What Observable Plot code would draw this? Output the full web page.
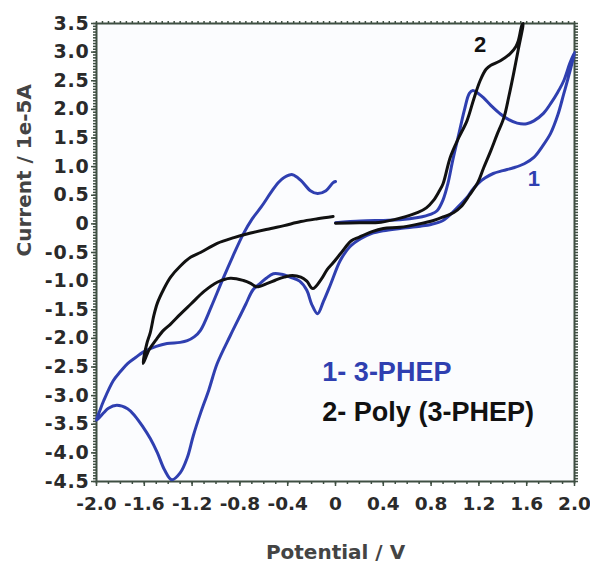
<!DOCTYPE html>
<html>
<head>
<meta charset="utf-8">
<script src="https://cdn.jsdelivr.net/npm/d3@7"></script>
<script src="https://cdn.jsdelivr.net/npm/@observablehq/plot@0.6"></script>
<style>
  html, body { margin: 0; padding: 0; background: #ffffff; }
  #chart svg { display: block; font-weight: bold; }
  #chart svg g[aria-label="y-axis tick label"] text { letter-spacing: 0.8px; }
</style>
</head>
<body>
<div id="chart"></div>
<script>
// ---- Data ----
// Curve 1: 3-PHEP (blue), in scan order: 0 V -> +2.0 V -> -2.0 V -> 0 V
const blueV = [0.0, 0.21, 0.4, 0.54, 0.69, 0.8, 0.85, 0.9, 0.94, 0.98, 1.03, 1.08, 1.12, 1.15, 1.2, 1.24, 1.3, 1.38, 1.45, 1.52, 1.6, 1.66, 1.74, 1.8, 1.86, 1.91, 1.96, 2.0,
  1.96, 1.91, 1.86, 1.8, 1.73, 1.66, 1.58, 1.49, 1.4, 1.32, 1.25, 1.19, 1.14, 1.1, 1.05, 0.98, 0.9, 0.8, 0.71, 0.54, 0.4, 0.3, 0.21, 0.12, 0.04, -0.04, -0.1, -0.15, -0.2, -0.24, -0.3, -0.38, -0.45, -0.52, -0.58, -0.63, -0.69, -0.75, -0.79, -0.88, -0.99, -1.06, -1.13, -1.19, -1.24, -1.3, -1.37, -1.43, -1.49, -1.55, -1.61, -1.68, -1.74, -1.83, -1.9, -1.94, -2.0,
  -1.97, -1.94, -1.86, -1.8, -1.74, -1.67, -1.61, -1.5, -1.41, -1.3, -1.24, -1.18, -1.13, -1.04, -0.95, -0.86, -0.77, -0.7, -0.62, -0.54, -0.48, -0.43, -0.36, -0.29, -0.21, -0.15, -0.08, -0.02, 0.0];
const blueI = [0.02, 0.05, 0.06, 0.07, 0.11, 0.17, 0.23, 0.42, 0.7, 1.1, 1.55, 2.0, 2.28, 2.33, 2.27, 2.2, 2.07, 1.92, 1.82, 1.76, 1.75, 1.8, 1.93, 2.1, 2.3, 2.5, 2.8, 3.0,
  2.65, 2.27, 1.9, 1.58, 1.35, 1.16, 1.05, 0.98, 0.93, 0.88, 0.8, 0.7, 0.58, 0.46, 0.35, 0.2, 0.06, -0.01, -0.04, -0.08, -0.12, -0.17, -0.26, -0.4, -0.64, -1.05, -1.35, -1.57, -1.4, -1.16, -1.0, -0.93, -0.88, -0.87, -0.95, -1.04, -1.15, -1.4, -1.57, -1.95, -2.44, -2.9, -3.31, -3.7, -4.08, -4.35, -4.47, -4.3, -4.0, -3.75, -3.55, -3.35, -3.23, -3.17, -3.22, -3.3, -3.43,
  -3.25, -3.09, -2.74, -2.58, -2.44, -2.33, -2.24, -2.14, -2.09, -2.07, -2.04, -1.97, -1.86, -1.45, -1.0, -0.57, -0.17, 0.08, 0.3, 0.55, 0.72, 0.81, 0.86, 0.76, 0.58, 0.53, 0.58, 0.72, 0.74];

// Curve 2: Poly(3-PHEP) (black), in scan order: 0 V -> +1.57 V -> -1.6 V -> 0 V
const blackV = [0.0, 0.2, 0.38, 0.54, 0.69, 0.76, 0.82, 0.87, 0.9, 0.96, 1.03, 1.1, 1.16, 1.21, 1.26, 1.3, 1.38, 1.46, 1.51, 1.53, 1.56, 1.57,
  1.53, 1.49, 1.45, 1.41, 1.35, 1.3, 1.24, 1.19, 1.12, 1.05, 0.99, 0.9, 0.82, 0.7, 0.54, 0.4, 0.3, 0.2, 0.13, 0.05, -0.02, -0.07, -0.12, -0.19, -0.24, -0.29, -0.36, -0.43, -0.5, -0.57, -0.66, -0.71, -0.77, -0.88, -0.99, -1.1, -1.21, -1.3, -1.38, -1.44, -1.5, -1.56, -1.61,
  -1.58, -1.55, -1.52, -1.49, -1.44, -1.38, -1.3, -1.21, -1.13, -0.99, -0.85, -0.71, -0.54, -0.43, -0.29, -0.15, -0.02];
const blackI = [0.01, 0.02, 0.03, 0.1, 0.2, 0.28, 0.41, 0.58, 0.7, 1.16, 1.5, 1.8, 2.2, 2.5, 2.7, 2.77, 2.85, 2.97, 3.1, 3.2, 3.47, 3.5,
  3.05, 2.62, 2.22, 1.86, 1.55, 1.28, 0.98, 0.72, 0.5, 0.3, 0.2, 0.12, 0.06, 0.0, -0.06, -0.08, -0.14, -0.23, -0.3, -0.5, -0.68, -0.8, -0.97, -1.13, -1.0, -0.93, -0.9, -0.93, -0.98, -1.04, -1.1, -1.04, -0.99, -0.95, -1.02, -1.18, -1.4, -1.58, -1.75, -1.86, -2.02, -2.2, -2.44,
  -2.1, -1.9, -1.6, -1.38, -1.15, -0.93, -0.74, -0.58, -0.5, -0.34, -0.24, -0.16, -0.08, -0.03, 0.04, 0.09, 0.13];

// Axis ticks and labels
const xTicks = [-2.0, -1.6, -1.2, -0.8, -0.4, 0, 0.4, 0.8, 1.2, 1.6, 2.0];
const xTickLabels = ["-2.0", "-1.6", "-1.2", "-0.8", "-0.4", "0", "0.4", "0.8", "1.2", "1.6", "2.0"];
const yTicks = [3.5, 3.0, 2.5, 2.0, 1.5, 1.0, 0.5, 0, -0.5, -1.0, -1.5, -2.0, -2.5, -3.0, -3.5, -4.0, -4.5];
const yTickLabels = ["3.5", "3.0", "2.5", "2.0", "1.5", "1.0", "0.5", "0", "-0.5", "-1.0", "-1.5", "-2.0", "-2.5", "-3.0", "-3.5", "-4.0", "-4.5"];
const xTitle = "Potential / V";
const yTitle = "Current / 1e-5A";

// Curve labels and legend
const curveLabels = ["1", "2"];
const curveLabelV = [1.66, 1.21];
const curveLabelI = [0.79, 3.12];
const legendTexts = ["1- 3-PHEP", "2- Poly (3-PHEP)"];
const legendV = [-0.11, -0.11];
const legendI = [-2.6, -3.3];

// ---- Build ----
const BLUE = "#2f3fb0";
const BLACK = "#111111";
const FRAME = "#3f4f42";
const colors = [BLUE, BLACK];

const blueRows = blueV.map((v, k) => ({v, i: blueI[k]}));
const blackRows = blackV.map((v, k) => ({v, i: blackI[k]}));
const xMinor = d3.range(-20, 21).map(k => k / 10);
const xMinorTop = d3.range(-40, 41).map(k => k / 20);
const yMinor = d3.range(-90, 71).map(k => k / 20);
const labelRows = curveLabels.map((t, k) => ({t, v: curveLabelV[k], i: curveLabelI[k], c: colors[k]}));
const legendRows = legendTexts.map((t, k) => ({t, v: legendV[k], i: legendI[k], c: colors[k]}));

const chart = Plot.plot({
  width: 590,
  height: 565,
  marginLeft: 96,
  marginRight: 16,
  marginTop: 23,
  marginBottom: 84,
  x: {domain: [-2, 2], label: null},
  y: {domain: [-4.5, 3.5], label: null},
  style: {fontFamily: "'DejaVu Sans', sans-serif", fontSize: "18px", color: "#2a2a2a", background: "#ffffff", overflow: "visible"},
  marks: [
    Plot.frame({fill: "#fbfcfe"}),
    // minor ticks
    Plot.axisX(xMinor, {anchor: "bottom", tickSize: 3, tickFormat: () => "", stroke: FRAME, strokeWidth: 1.5, label: null}),
    Plot.axisX(xMinorTop, {anchor: "top", tickSize: 3, tickFormat: () => "", stroke: FRAME, strokeWidth: 1.5, label: null}),
    Plot.axisY(yMinor, {anchor: "left", tickSize: 3, tickFormat: () => "", stroke: FRAME, strokeWidth: 1.5, label: null}),
    Plot.axisY(yMinor, {anchor: "right", tickSize: 3, tickFormat: () => "", stroke: FRAME, strokeWidth: 1.5, label: null}),
    // major ticks + labels
    Plot.axisX(xTicks, {anchor: "bottom", tickSize: 5, tickPadding: 10, stroke: FRAME, strokeWidth: 1.5,
      tickFormat: d => xTickLabels[xTicks.indexOf(d)], fontSize: 18.5, fontWeight: "bold", label: null}),
    Plot.axisY(yTicks, {anchor: "left", tickSize: 5, tickPadding: 2, stroke: FRAME, strokeWidth: 1.5,
      tickFormat: d => yTickLabels[yTicks.indexOf(d)], fontSize: 19, fontWeight: "bold", label: null}),
    Plot.frame({stroke: FRAME, strokeWidth: 2}),
    // curves
    Plot.line(blueRows, {x: "v", y: "i", stroke: BLUE, strokeWidth: 3, curve: "catmull-rom"}),
    Plot.line(blackRows, {x: "v", y: "i", stroke: BLACK, strokeWidth: 3, curve: "catmull-rom"}),
    // curve labels
    Plot.text(labelRows, {x: "v", y: "i", text: "t", fill: "c", fontSize: 22, fontWeight: "bold", fontFamily: "'Liberation Sans', Arial, sans-serif"}),
    // legend
    Plot.text(legendRows, {x: "v", y: "i", text: "t", fill: "c", fontSize: 27, fontWeight: "bold", textAnchor: "start", fontFamily: "'Liberation Sans', Arial, sans-serif"}),
    // axis titles
    Plot.text([xTitle], {frameAnchor: "bottom", dy: 77, fontSize: 20, fontWeight: "bold", fill: "#444444"}),
    Plot.text([yTitle], {frameAnchor: "left", dx: -72, dy: 4, rotate: -90, fontSize: 20, fontWeight: "bold", fill: "#444444"})
  ]
});
document.getElementById("chart").appendChild(chart);
</script>
</body>
</html>
